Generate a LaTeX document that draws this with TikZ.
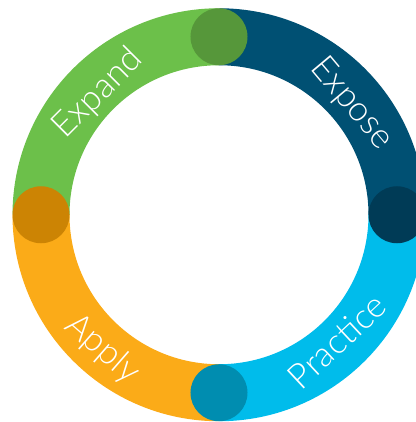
\documentclass[tikz,border=0pt]{standalone}
\usepackage{fontspec}
\setmainfont{Lato Light}
\definecolor{cgreen}{HTML}{6CC04A}
\definecolor{cdblue}{HTML}{005073}
\definecolor{clblue}{HTML}{00BCEB}
\definecolor{corange}{HTML}{FBAB18}
\definecolor{kgreen}{HTML}{56973A}
\definecolor{kdblue}{HTML}{003B56}
\definecolor{klblue}{HTML}{008DB0}
\definecolor{korange}{HTML}{CC8404}
\begin{document}
\begin{tikzpicture}[x=1bp,y=1bp,
  seg/.style={line width=57bp},
  joint/.style={circle, minimum size=57bp, inner sep=0pt},
  lbl/.style={text=white, font=\fontsize{35}{35}\selectfont, inner sep=0pt}]
\useasboundingbox (0,0) rectangle (416,422);
\coordinate (C) at (219,207.25);
\draw[seg, cdblue] (C) ++(0:178) arc[start angle=0, end angle=90, radius=178];
\draw[seg, cgreen] (C) ++(90:178) arc[start angle=90, end angle=180, radius=178];
\draw[seg, corange] (C) ++(180:178) arc[start angle=180, end angle=270, radius=178];
\draw[seg, clblue] (C) ++(270:178) arc[start angle=270, end angle=360, radius=178];
\node[joint, fill=kgreen] (jtop) at ([shift={(90:178)}]C) {};
\node[joint, fill=kdblue] (jright) at ([shift={(0:178)}]C) {};
\node[joint, fill=korange] (jleft) at ([shift={(180:178)}]C) {};
\node[joint, fill=klblue] (jbottom) at ([shift={(270:178)}]C) {};
\node[lbl, rotate=45] (expand) at ([shift={(135:171)}]C) {Expand};
\node[lbl, rotate=-50] (expose) at ([shift={(40:173)}]C) {Expose};
\node[lbl, rotate=-41] (apply) at ([shift={(229:178)}]C) {Apply};
\node[lbl, rotate=43] (practice) at ([shift={(-47:173)}]C) {Practice};
\end{tikzpicture}
\end{document}
